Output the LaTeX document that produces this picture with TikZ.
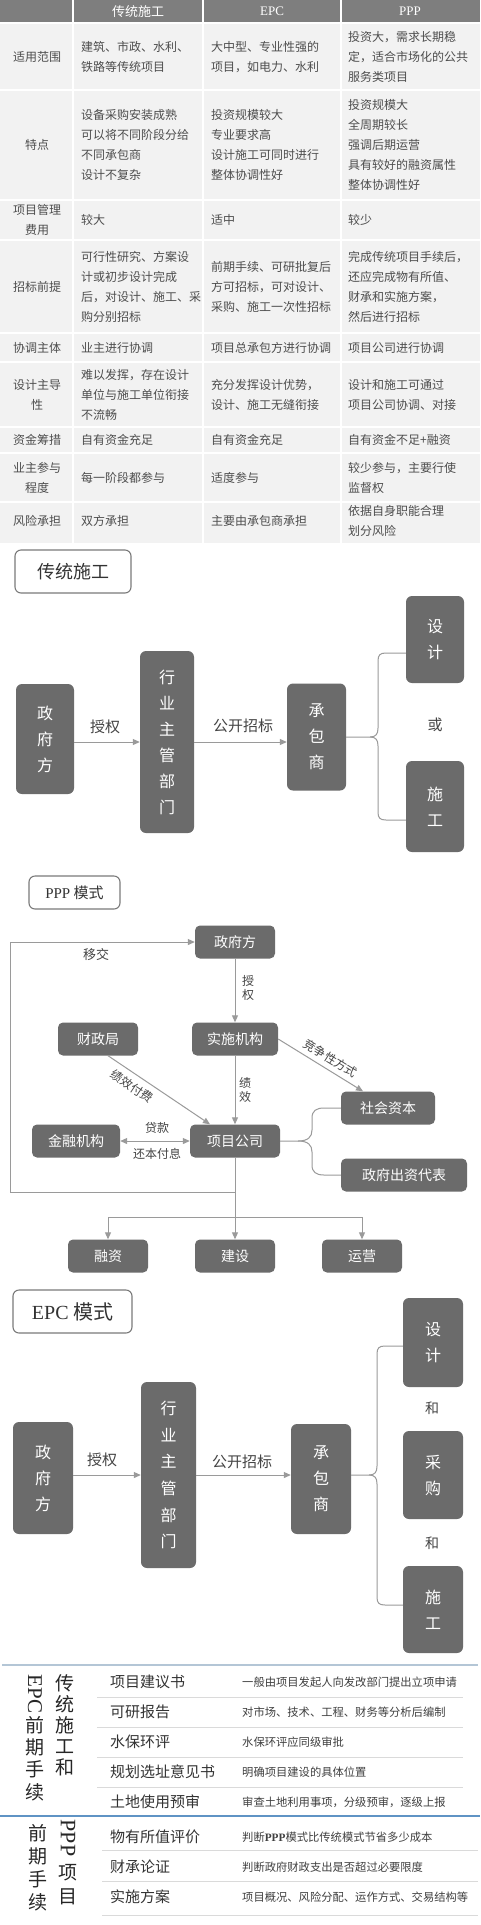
\documentclass[tikz,border=0pt]{standalone}
\usepackage{fontspec}
\setmainfont{Noto Sans CJK SC}
\newfontfamily\lat{Liberation Serif}
\usetikzlibrary{arrows.meta}
\newcommand\myfs[2]{\fontsize{#1}{#2}\selectfont}
\definecolor{hdr}{HTML}{7E7E7E}
\definecolor{tbody}{HTML}{F2F2F2}
\definecolor{ttxt}{HTML}{4D4D4D}
\definecolor{boxg}{HTML}{6B6B6B}
\definecolor{lineg}{HTML}{9A9A9A}
\definecolor{ttlg}{HTML}{7A7A7A}
\definecolor{sepa}{HTML}{B4C6D6}
\definecolor{sepb}{HTML}{5F93C4}
\definecolor{rowl}{HTML}{DADADA}
\definecolor{lbltxt}{HTML}{444444}
\tikzset{
  hd/.style={text=white, inner sep=0pt, font={\myfs{13}{15}}},
  tl/.style={anchor=west, align=left, inner sep=0pt, text=ttxt, font={\myfs{12}{20}}},
  tc/.style={align=center, inner sep=0pt, text=ttxt, font={\myfs{12}{20}}},
  ttl/.style={draw=ttlg, line width=1.1pt, rounded corners=6pt, fill=white, inner sep=0pt, text=black!80},
  dbox/.style={fill=boxg, rounded corners=6pt, text=white, inner sep=0pt, align=center, font={\myfs{16}{26}}},
  pbox/.style={fill=boxg, rounded corners=5pt, text=white, inner sep=0pt, minimum height=33pt, font={\myfs{14}{16}}},
  conn/.style={draw=lineg, line width=1pt},
  arr/.style={conn, -{Triangle[width=6pt,length=7pt]}},
  lbl/.style={text=lbltxt, inner sep=1pt, font={\myfs{15}{17}}},
  slbl/.style={text=lbltxt, inner sep=1pt, font={\myfs{12}{14}}},
  item/.style={anchor=west, inner sep=0pt, text=black!80, font={\myfs{15}{17}}},
  desc/.style={anchor=west, inner sep=0pt, text=black!75, font={\myfs{11.3}{13}}},
  vcol/.style={align=center, inner sep=0pt, text=black!85},
}
\begin{document}
\begin{tikzpicture}[x=1pt,y=-1pt]
\useasboundingbox (0,0) rectangle (480,1925);
\fill[white] (0,0) rectangle (480,1925);
% ---------------- table ----------------
\fill[hdr] (0,0) rectangle (480,23);
\fill[tbody] (0,23) rectangle (480,543);
\foreach \x in {73,203,341} \draw[white, line width=1.2pt] (\x,0) -- (\x,543);
\foreach \y in {23,90,200,240,333,362,427,453,502} \draw[white, line width=1.5pt] (0,\y) -- (480,\y);
\node[hd] (h1) at (138,11.5) {传统施工};
\node[hd] (h2) at (272,11.5) {\lat EPC};
\node[hd] (h3) at (410,11.5) {\lat PPP};
% row 1
\node[tc] (r1a) at (37,56.5) {适用范围};
\node[tl] (r1b) at (81,57) {建筑、市政、水利、\\铁路等传统项目};
\node[tl] (r1c) at (211,57) {大中型、专业性强的\\项目，如电力、水利};
\node[tl] (r1d) at (348,57) {投资大，需求长期稳\\定，适合市场化的公共\\服务类项目};
% row 2
\node[tc] (r2a) at (37,145) {特点};
\node[tl] (r2b) at (81,145) {设备采购安装成熟\\可以将不同阶段分给\\不同承包商\\设计不复杂};
\node[tl] (r2c) at (211,145) {投资规模较大\\专业要求高\\设计施工可同时进行\\整体协调性好};
\node[tl] (r2d) at (348,145) {投资规模大\\全周期较长\\强调后期运营\\具有较好的融资属性\\整体协调性好};
% row 3
\node[tc] (r3a) at (37,220) {项目管理\\费用};
\node[tl] (r3b) at (81,220) {较大};
\node[tl] (r3c) at (211,220) {适中};
\node[tl] (r3d) at (348,220) {较少};
% row 4
\node[tc] (r4a) at (37,286.5) {招标前提};
\node[tl] (r4b) at (81,286.5) {可行性研究、方案设\\计或初步设计完成\\后，对设计、施工、采\\购分别招标};
\node[tl] (r4c) at (211,286.5) {前期手续、可研批复后\\方可招标，可对设计、\\采购、施工一次性招标};
\node[tl] (r4d) at (348,286.5) {完成传统项目手续后，\\还应完成物有所值、\\财承和实施方案，\\然后进行招标};
% row 5
\node[tc] (r5a) at (37,347.5) {协调主体};
\node[tl] (r5b) at (81,347.5) {业主进行协调};
\node[tl] (r5c) at (211,347.5) {项目总承包方进行协调};
\node[tl] (r5d) at (348,347.5) {项目公司进行协调};
% row 6
\node[tc] (r6a) at (37,394.5) {设计主导\\性};
\node[tl] (r6b) at (81,394.5) {难以发挥，存在设计\\单位与施工单位衔接\\不流畅};
\node[tl] (r6c) at (211,394.5) {充分发挥设计优势，\\设计、施工无缝衔接};
\node[tl] (r6d) at (348,394.5) {设计和施工可通过\\项目公司协调、对接};
% row 7
\node[tc] (r7a) at (37,440) {资金筹措};
\node[tl] (r7b) at (81,440) {自有资金充足};
\node[tl] (r7c) at (211,440) {自有资金充足};
\node[tl] (r7d) at (348,440) {自有资金不足+融资};
% row 8
\node[tc] (r8a) at (37,477.5) {业主参与\\程度};
\node[tl] (r8b) at (81,477.5) {每一阶段都参与};
\node[tl] (r8c) at (211,477.5) {适度参与};
\node[tl] (r8d) at (348,477.5) {较少参与，主要行使\\监督权};
% row 9
\node[tc] (r9a) at (37,521) {风险承担};
\node[tl] (r9b) at (81,521) {双方承担};
\node[tl] (r9c) at (211,521) {主要由承包商承担};
\node[tl] (r9d) at (348,521) {依据自身职能合理\\划分风险};
% ---------------- 传统施工 ----------------
\node[ttl, minimum width=116pt, minimum height=43pt, font={\myfs{18}{20}}] (t1) at (73,571.5) {传统施工};
\node[dbox, minimum width=58pt, minimum height=110pt] (gov1) at (45,739) {政\\府\\方};
\node[dbox, minimum width=54pt, minimum height=182pt] (hy1) at (167,742) {行\\业\\主\\管\\部\\门};
\node[dbox, minimum width=59pt, minimum height=107pt] (cb1) at (316.5,737) {承\\包\\商};
\node[dbox, minimum width=58pt, minimum height=87pt] (sj1) at (435,639.5) {设\\计};
\node[dbox, minimum width=58pt, minimum height=91pt] (sg1) at (435,806.5) {施\\工};
\draw[arr] (gov1.east |- hy1.west) -- (hy1.west);
\draw[arr] (hy1.east) -- (hy1.east -| cb1.west);
\node[lbl] (l1a) at (105,727) {授权};
\node[lbl] (l1b) at (243,726) {公开招标};
\draw[conn] (cb1.east) -- (370,737) .. controls (376,737) and (378,734) .. (378,728) -- (378,661) .. controls (378,655) and (380,653) .. (386,653) -- ([yshift=-13.5pt]sj1.west);
\draw[conn] (370,737) .. controls (376,737) and (378,740) .. (378,746) -- (378,812) .. controls (378,818) and (380,820) .. (386,820) -- ([yshift=-13.5pt]sg1.west);
\node[lbl] (or1) at (435,725) {或};
% ---------------- PPP ----------------
\node[ttl, minimum width=91pt, minimum height=33pt, font={\myfs{15}{17}}] (t2) at (74.5,892.5) {{\lat PPP} 模式};
\node[pbox, minimum width=80pt] (zf2) at (235,942) {政府方};
\node[pbox, minimum width=86pt] (ss) at (235,1039) {实施机构};
\node[pbox, minimum width=80pt] (cz) at (98,1039) {财政局};
\node[pbox, minimum width=94pt] (sh) at (388,1108) {社会资本};
\node[pbox, minimum width=88pt] (jr) at (76,1141) {金融机构};
\node[pbox, minimum width=90pt] (xm) at (235,1141) {项目公司};
\node[pbox, minimum width=126pt] (zfcz) at (404,1175) {政府出资代表};
\node[pbox, minimum width=80pt] (rz) at (108,1256) {融资};
\node[pbox, minimum width=80pt] (js) at (235,1256) {建设};
\node[pbox, minimum width=80pt] (yy) at (362,1256) {运营};
\draw[arr] (zf2) -- (ss);
\node[slbl, align=center] (l2a) at (248,988) {授\\权};
\draw[arr] (ss) -- (xm);
\node[slbl, align=center] (l2b) at (245,1090) {绩\\效};
\draw[arr] ([xshift=10pt]cz.south) -- node[slbl, sloped, below=5pt, pos=0.3] (l2c) {绩效付费} ([xshift=-25pt]xm.north);
\draw[arr] (ss.east) -- node[slbl, sloped, above=4pt, pos=0.55] (l2d) {竞争性方式} ([xshift=-25pt]sh.north);
\draw[conn, {Triangle[width=6pt,length=7pt]}-{Triangle[width=6pt,length=7pt]}] (jr) -- (xm);
\node[slbl] (l2e) at (157,1128) {贷款};
\node[slbl] (l2f) at (157,1154) {还本付息};
\coordinate (xb) at (298,1141);
\draw[conn] (xm.east) -- (xb) .. controls (308,1141) and (312,1137) .. (312,1130) -- (312,1118) .. controls (312,1111) and (316,1108) .. (324,1108) -- (sh.west);
\draw[conn] (xb) .. controls (308,1141) and (312,1145) .. (312,1152) -- (312,1165) .. controls (312,1172) and (316,1175) .. (324,1175) -- (zfcz.west);
\draw[arr] (xm) -- (js);
\coordinate (tb) at (235,1217);
\coordinate (tj) at (235,1192);
\coordinate (yl) at (10,1192);
\draw[conn] (rz.north |- tb) -- (yy.north |- tb);
\draw[arr] (rz.north |- tb) -- (rz.north);
\draw[arr] (yy.north |- tb) -- (yy.north);
\draw[arr] (tj) -- (yl) |- (zf2.west);
\node[slbl, font={\myfs{13}{15}}] (l2g) at (96,955) {移交};
% ---------------- EPC ----------------
\node[ttl, minimum width=119pt, minimum height=43pt, font={\myfs{20}{22}}] (t3) at (72.5,1311.5) {{\lat EPC} 模式};
\node[dbox, minimum width=60pt, minimum height=112pt] (gov3) at (43,1478) {政\\府\\方};
\node[dbox, minimum width=55pt, minimum height=186pt, font={\myfs{16}{26.7}}] (hy3) at (168.5,1475) {行\\业\\主\\管\\部\\门};
\node[dbox, minimum width=60pt, minimum height=110pt] (cb3) at (321,1479) {承\\包\\商};
\node[dbox, minimum width=60pt, minimum height=89pt] (sj3) at (433,1342.5) {设\\计};
\node[dbox, minimum width=60pt, minimum height=88pt] (cg3) at (433,1475) {采\\购};
\node[dbox, minimum width=60pt, minimum height=87pt] (sg3) at (433,1609.5) {施\\工};
\draw[arr] (gov3.east |- hy3.west) -- (hy3.west);
\draw[arr] (hy3.east) -- (hy3.east -| cb3.west);
\node[lbl] (l3a) at (102,1460) {授权};
\node[lbl] (l3b) at (242,1462) {公开招标};
\draw[conn] (cb3.east |- hy3.east) -- (369,1475) .. controls (375,1475) and (377,1472) .. (377,1466) -- (377,1354) .. controls (377,1348) and (379,1346) .. (385,1346) -- ([yshift=-3.5pt]sj3.west);
\draw[conn] (369,1475) .. controls (375,1475) and (377,1478) .. (377,1484) -- (377,1597) .. controls (377,1603) and (379,1605) .. (385,1605) -- ([yshift=4.5pt]sg3.west);
\node[lbl, font={\myfs{14}{16}}] (and1) at (432,1408) {和};
\node[lbl, font={\myfs{14}{16}}] (and2) at (432,1543) {和};
% ---------------- bottom lists ----------------
\draw[sepa, line width=1.5pt] (2,1665) -- (478,1665);
\draw[sepb, line width=1.5pt] (0,1816) -- (480,1816);
\foreach \y in {1697,1727,1757,1787} \draw[rowl, line width=1pt] (97,\y) -- (463,\y);
\foreach \y in {1850,1881,1915} \draw[rowl, line width=1pt] (102,\y) -- (478,\y);
\node[vcol, font={\myfs{19}{21}}] (v1) at (65,1725) {传\\统\\施\\工\\和};
\node[vcol, rotate=-90, font={\lat\myfs{21}{21}}] (v2) at (35,1694) {EPC};
\node[vcol, font={\myfs{19}{22.3}}] (v3) at (35,1758.5) {前\\期\\手\\续};
\node[vcol, rotate=-90, font={\lat\myfs{22}{22}}] (v4) at (68,1838) {PPP};
\node[vcol, font={\myfs{19}{24}}] (v5) at (68,1885) {项\\目};
\node[vcol, font={\myfs{19}{23}}] (v6) at (38,1868) {前\\期\\手\\续};
\node[item] (i1) at (110,1682) {项目建议书};
\node[item] (i2) at (110,1712) {可研报告};
\node[item] (i3) at (110,1742) {水保环评};
\node[item] (i4) at (110,1772) {规划选址意见书};
\node[item] (i5) at (110,1802) {土地使用预审};
\node[item] (i6) at (110,1837) {物有所值评价};
\node[item] (i7) at (110,1867) {财承论证};
\node[item] (i8) at (110,1897) {实施方案};
\node[desc] (d1) at (242,1682) {一般由项目发起人向发改部门提出立项申请};
\node[desc] (d2) at (242,1712) {对市场、技术、工程、财务等分析后编制};
\node[desc] (d3) at (242,1742) {水保环评应同级审批};
\node[desc] (d4) at (242,1772) {明确项目建设的具体位置};
\node[desc] (d5) at (242,1802) {审查土地利用事项，分级预审，逐级上报};
\node[desc] (d6) at (242,1837) {判断{\lat\bfseries PPP}模式比传统模式节省多少成本};
\node[desc] (d7) at (242,1867) {判断政府财政支出是否超过必要限度};
\node[desc] (d8) at (242,1897) {项目概况、风险分配、运作方式、交易结构等};
\end{tikzpicture}
\end{document}
